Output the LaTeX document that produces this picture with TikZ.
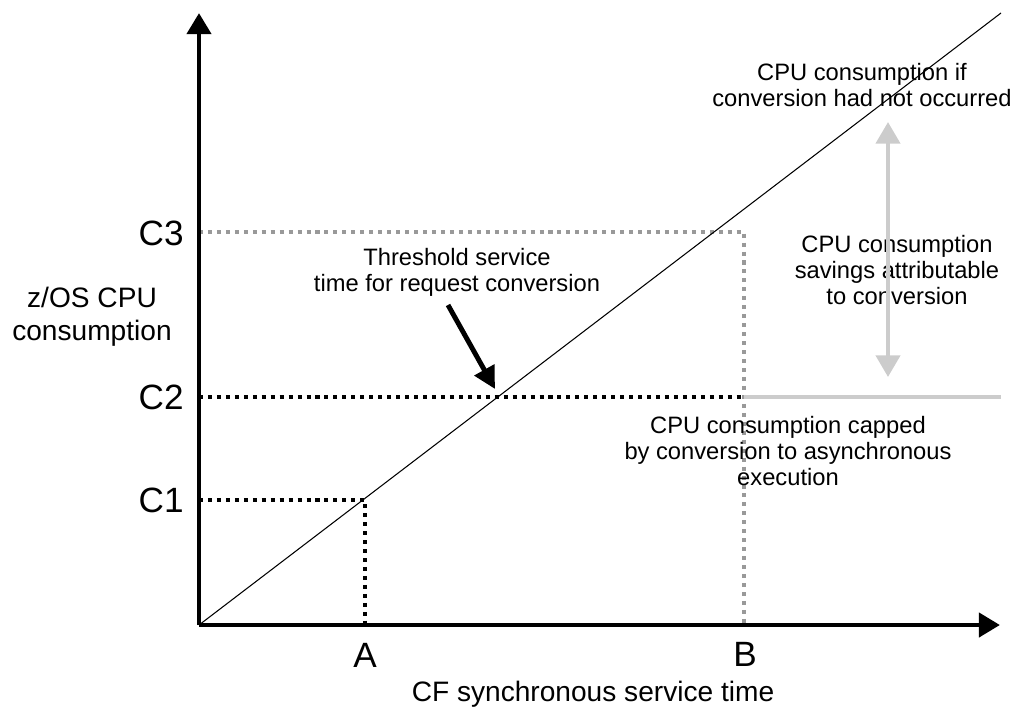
\documentclass[tikz,border=0pt]{standalone}
\usepackage{fontspec}
\setmainfont{Liberation Sans}
\usetikzlibrary{arrows.meta,positioning,calc}
\definecolor{lightgrey}{gray}{0.8}
\definecolor{midgrey}{gray}{0.6}
\tikzset{
  axis/.style={line width=2.8pt, -{Triangle[length=12pt,width=13.5pt]}},
  blackdots/.style={line width=2pt, dash pattern=on 2.3pt off 2.8pt},
  greydots/.style={blackdots, midgrey},
  biglabel/.style={font=\fontsize{20}{22}\selectfont, inner sep=0pt},
  note/.style={font=\fontsize{13.5}{14.8}\selectfont, align=center, inner sep=0pt},
}

\begin{document}
\begin{tikzpicture}[x=0.02cm, y=-0.02cm]
    \useasboundingbox (0,0) rectangle (1021,711);
    % points on the axes
    \coordinate (O) at (199,625);
    \coordinate (ytop) at (199,13);
    \coordinate (xend) at (1000,625);
    \coordinate (a) at (365,625);
    \coordinate (b) at (744,625);
    \coordinate (c1) at (199,500);
    \coordinate (c2) at (199,397);
    \coordinate (c3) at (199,232);
    \coordinate (p1) at (365,500);
    \coordinate (p2) at (744,397);
    \coordinate (p3) at (744,232);
    \coordinate (c2end) at (1001,397);
    \coordinate (diagend) at (1001,13);

    % dotted guide lines
    \draw [greydots] (c3) -- (p3) -- (b);
    \draw [blackdots] (c2) -- (p2);
    \draw [blackdots] (c1) -- (p1) -- (a);
    \draw [lightgrey, line width=2.2pt] (p2) -- (c2end);

    % consumption line
    \draw [line width=0.6pt] (O) -- (diagend);

    % axes
    \draw [axis] (O) -- (ytop);
    \draw [axis] (O) -- (xend);

    % labels on the axes
    \node [biglabel, anchor=east] (C3) at (184,233) {C3};
    \node [biglabel, anchor=east] (C2) at (184,397) {C2};
    \node [biglabel, anchor=east] (C1) at (184,500) {C1};
    \node [biglabel] (A) at (365,655) {A};
    \node [biglabel] (B) at (745,654) {B};
    \node [font=\fontsize{16}{19}\selectfont, inner sep=0pt] (xlabel) at (593,694) {CF synchronous service time};
    \node [font=\fontsize{16}{18.7}\selectfont, align=center, inner sep=0pt] (ylabel) at (92,317) {z/OS CPU\\consumption};

    % notes
    \node [note] (thr) at (457,272) {Threshold service\\time for request conversion};
    \node [note] (ifnot) at (862,85) {CPU consumption if\\conversion had not occurred};
    \node [note] (savings) at (897,270) {CPU consumption\\savings attributable\\to conversion};
    \node [note] (capped) at (788,451) {CPU consumption capped\\by conversion to asynchronous\\execution};

    % arrows
    \coordinate (thrtail) at (448,305);
    \coordinate (thrtip) at (495,389);
    \draw [line width=2.8pt, -{Triangle[length=12.5pt,width=12.5pt]}] (thrtail) -- (thrtip);
    \coordinate (savtop) at (888,122);
    \coordinate (savbot) at (888,377);
    \draw [lightgrey, line width=2.5pt, {Triangle[length=12.3pt,width=13.6pt]}-{Triangle[length=12.3pt,width=13.6pt]}] (savtop) -- (savbot);
  \end{tikzpicture}
\end{document}
